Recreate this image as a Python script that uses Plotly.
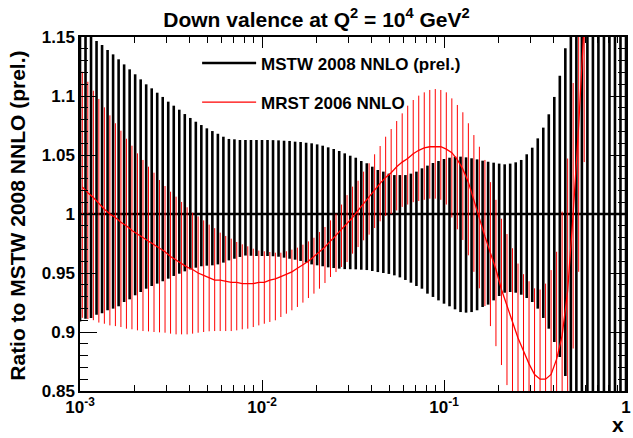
import numpy as np
import plotly.graph_objects as go

# ---------------- data ----------------
black_x = [
    0.001, 0.0010723, 0.0011498, 0.0012328, 0.0013219, 0.0014175, 0.0015199, 0.0016298, 0.0017475, 0.0018738,
    0.0020092, 0.0021544, 0.0023101, 0.0024771, 0.0026561, 0.002848, 0.0030539, 0.0032745, 0.0035112, 0.0037649,
    0.004037, 0.0043288, 0.0046416, 0.004977, 0.0053367, 0.0057224, 0.0061359, 0.0065793, 0.0070548, 0.0075646,
    0.0081113, 0.0086975, 0.009326,
    0.01, 0.010723, 0.011498, 0.012328, 0.013219, 0.014175, 0.015199, 0.016298, 0.017475, 0.018738,
    0.020092, 0.021544, 0.023101, 0.024771, 0.026561, 0.02848, 0.030539, 0.032745, 0.035112, 0.037649,
    0.04037, 0.043288, 0.046416, 0.04977, 0.053367, 0.057224, 0.061359, 0.065793, 0.070548, 0.075646,
    0.081113, 0.086975, 0.09326,
    0.1, 0.10723, 0.11498, 0.12328, 0.13219, 0.14175, 0.15199, 0.16298, 0.17475, 0.18738,
    0.20092, 0.21544, 0.23101, 0.24771, 0.26561, 0.2848, 0.30539, 0.32745, 0.35112, 0.37649,
    0.4037, 0.43288, 0.46416, 0.4977, 0.53367, 0.57224, 0.61359, 0.65793, 0.70548, 0.75646,
    0.81113, 0.86975, 0.9326, 1.0,
]
mstw_center = [1.0] * 100
mstw_hi = [
    1.170, 1.160, 1.152, 1.1466, 1.1432, 1.1390, 1.1353, 1.1311, 1.1268, 1.1226,
    1.1184, 1.1141, 1.1099, 1.1065, 1.1028, 1.0992, 1.0952, 1.0918, 1.0884, 1.0847,
    1.0814, 1.0782, 1.0754, 1.0726, 1.0703, 1.0680, 1.0655, 1.0636, 1.0633, 1.0627,
    1.0627, 1.0627, 1.0627, 1.0627, 1.0627, 1.0626, 1.0624, 1.0621, 1.0619, 1.0613,
    1.0610, 1.0604, 1.0599, 1.0590, 1.0579, 1.0565, 1.0551, 1.0534, 1.0514, 1.0494,
    1.0477, 1.0449, 1.0430, 1.0401, 1.0373, 1.0359, 1.0342, 1.0330, 1.0330, 1.0330,
    1.0342, 1.0359, 1.0387, 1.0410, 1.0432, 1.0449, 1.0466, 1.0477, 1.0486, 1.0486,
    1.0480, 1.0472, 1.0463, 1.0452, 1.0443, 1.0435, 1.0427, 1.0421, 1.0427, 1.0438,
    1.0458, 1.0506, 1.0562, 1.0641, 1.0732, 1.0845, 1.0992, 1.1172, 1.1404, 1.170,
    1.20, 1.23, 1.26, 1.29, 1.32, 1.35, 1.38, 1.41, 1.44, 1.47,
]
mstw_lo = [
    0.9090, 0.9113, 0.9119, 0.9147, 0.9158, 0.9184, 0.9198, 0.9218, 0.9254, 0.9277,
    0.9311, 0.9339, 0.9367, 0.9390, 0.9410, 0.9430, 0.9452, 0.9475, 0.9494, 0.9514,
    0.9531, 0.9545, 0.9557, 0.9562, 0.9565, 0.9573, 0.9588, 0.9607, 0.9621, 0.9636,
    0.9648, 0.9646, 0.9644, 0.9644, 0.9644, 0.9642, 0.9638, 0.9630, 0.9621, 0.9613,
    0.9602, 0.9588, 0.9573, 0.9565, 0.9557, 0.9548, 0.9542, 0.9537, 0.9533, 0.9532,
    0.9531, 0.9528, 0.9525, 0.9517, 0.9508, 0.9500, 0.9492, 0.9480, 0.9463, 0.9441,
    0.9418, 0.9390, 0.9367, 0.9325, 0.9297, 0.9268, 0.9240, 0.9218, 0.9192, 0.9169,
    0.9164, 0.9169, 0.9184, 0.9212, 0.9232, 0.9268, 0.9305, 0.9333, 0.9339, 0.9333,
    0.9316, 0.9288, 0.9254, 0.9198, 0.9119, 0.9028, 0.8915, 0.8788, 0.8627, 0.840,
    0.81, 0.78, 0.75, 0.72, 0.69, 0.66, 0.63, 0.60, 0.57, 0.54,
]

red_x = [
    0.0010297, 0.0011041, 0.001184, 0.0012694, 0.0013612, 0.0014596, 0.001565, 0.0016782, 0.0017994, 0.0019295,
    0.0020689, 0.0022184, 0.0023787, 0.0025507, 0.002735, 0.0029326, 0.0031446, 0.0033718, 0.0036155, 0.0038768,
    0.0041569, 0.0044574, 0.0047795, 0.0051248, 0.0054952, 0.0058924, 0.0063181, 0.0067747, 0.0072643, 0.0077893,
    0.0083523, 0.0089558, 0.009603,
    0.010297, 0.011041, 0.01184, 0.012694, 0.013612, 0.014596, 0.01565, 0.016782, 0.017994, 0.019295,
    0.020689, 0.022184, 0.023787, 0.025507, 0.02735, 0.029326, 0.031446, 0.033718, 0.036155, 0.038768,
    0.041569, 0.044574, 0.047795, 0.051248, 0.054952, 0.058924, 0.063181, 0.067747, 0.072643, 0.077893,
    0.083523, 0.089558, 0.09603,
    0.10297, 0.11041, 0.1184, 0.12694, 0.13612, 0.14596, 0.1565, 0.16782, 0.17994, 0.19295,
    0.20689, 0.22184, 0.23787, 0.25507, 0.2735, 0.29326, 0.31446, 0.33718, 0.36155, 0.38768,
    0.41569, 0.44574, 0.47795, 0.51248, 0.54952, 0.58924, 0.63181,
]
mrst_center = [
    1.023, 1.018, 1.014, 1.009, 1.004, 1.000, 0.997, 0.993, 0.990, 0.986,
    0.983, 0.980, 0.977, 0.974, 0.971, 0.968, 0.964, 0.961, 0.958, 0.955,
    0.953, 0.950, 0.948, 0.946, 0.944, 0.944, 0.943, 0.942, 0.942, 0.941,
    0.941, 0.941, 0.942, 0.942, 0.944, 0.945, 0.947, 0.949, 0.951, 0.954,
    0.957, 0.960, 0.964, 0.968, 0.972, 0.977, 0.982, 0.987, 0.992, 0.997,
    1.003, 1.009, 1.015, 1.021, 1.026, 1.031, 1.035, 1.040, 1.044, 1.047,
    1.051, 1.054, 1.056, 1.057, 1.057, 1.057, 1.055, 1.052, 1.046, 1.038,
    1.027, 1.011, 0.995, 0.981, 0.967, 0.953, 0.936, 0.922, 0.908, 0.895,
    0.884, 0.873, 0.864, 0.860, 0.860, 0.864, 0.877, 0.897, 0.935, 1.000,
    1.075, 1.160, 1.250,
]
mrst_hi = [
    1.1206, 1.1121, 1.1045, 1.0975, 1.0904, 1.0836, 1.0769, 1.0706, 1.0638, 1.0579,
    1.0514, 1.0458, 1.0401, 1.0350, 1.0288, 1.0237, 1.0189, 1.0147, 1.0102, 1.0057,
    1.0011, 0.9980, 0.9946, 0.9910, 0.9880, 0.9842, 0.9814, 0.9791, 0.9763, 0.9743,
    0.9726, 0.9706, 0.9690, 0.9684, 0.9678, 0.9672, 0.9672, 0.9684, 0.9698, 0.9715,
    0.9740, 0.9768, 0.9799, 0.9847, 0.9890, 0.9946, 1.0003, 1.0080, 1.0160, 1.0232,
    1.0282, 1.0359, 1.0430, 1.0506, 1.0576, 1.0655, 1.0720, 1.0788, 1.0853, 1.0918,
    1.0966, 1.1003, 1.1031, 1.1051, 1.1059, 1.1051, 1.1031, 1.0980, 1.0924, 1.0862,
    1.0769, 1.0669, 1.0570, 1.0458, 1.0270, 1.0120, 0.9960, 0.9830, 0.9710, 0.9580,
    0.9490, 0.9430, 0.9370, 0.9360, 0.9410, 0.9525, 0.9680, 1.0020, 1.0470, 1.1110,
    1.199, 1.280, 1.340,
]
mrst_lo = [
    0.912, 0.911, 0.910, 0.908, 0.907, 0.9056, 0.9050, 0.9042, 0.9028, 0.9023,
    0.9014, 0.9008, 0.9005, 0.9000, 0.8997, 0.8994, 0.8986, 0.8980, 0.8980, 0.8980,
    0.8986, 0.8994, 0.9000, 0.9006, 0.9008, 0.9008, 0.9008, 0.9008, 0.9014, 0.9023,
    0.9028, 0.9042, 0.9056, 0.9070, 0.9085, 0.9099, 0.9127, 0.9155, 0.9184, 0.9212,
    0.9249, 0.9288, 0.9325, 0.9367, 0.9415, 0.9466, 0.9508, 0.9551, 0.9593, 0.9664,
    0.9720, 0.9777, 0.9825, 0.9881, 0.9938, 0.9983, 1.0000, 1.0030, 1.0060, 1.0080,
    1.0100, 1.0110, 1.0120, 1.0130, 1.0130, 1.0120, 1.0080, 0.9970, 0.9870, 0.9780,
    0.9650, 0.9510, 0.9370, 0.9220, 0.9050, 0.8880, 0.8720, 0.8550, 0.8430, 0.8300,
    0.8180, 0.8030, 0.7910, 0.7840, 0.7790, 0.7750, 0.7860, 0.7920, 0.8230, 0.8860,
    0.951, 1.044, 1.160,
]

x_tick_vals = [0.001, 0.01, 0.1, 1]
x_tick_text = ["10<sup>-3</sup>", "10<sup>-2</sup>", "10<sup>-1</sup>", "1"]
y_tick_vals = [0.85, 0.9, 0.95, 1.0, 1.05, 1.1, 1.15]
y_tick_text = ["0.85", "0.9", "0.95", "1", "1.05", "1.1", "1.15"]

# ---------------- figure ----------------
FONT = "Liberation Sans"
bc = np.array(mstw_center)
rc = np.array(mrst_center)

fig = go.Figure()
fig.add_trace(go.Scatter(
    x=black_x, y=mstw_center, mode="markers",
    marker=dict(size=1, color="rgba(0,0,0,0)"),
    error_y=dict(type="data", symmetric=False,
                 array=np.array(mstw_hi) - bc, arrayminus=bc - np.array(mstw_lo),
                 color="black", thickness=2.6, width=0),
    showlegend=False, hoverinfo="skip"))
fig.add_trace(go.Scatter(
    x=black_x, y=mstw_center, mode="lines",
    line=dict(color="black", width=2.5),
    name="MSTW 2008 NNLO (prel.)", legendgroup="a"))
fig.add_trace(go.Scatter(
    x=red_x, y=mrst_center, mode="markers",
    marker=dict(size=1, color="rgba(0,0,0,0)"),
    error_y=dict(type="data", symmetric=False,
                 array=np.array(mrst_hi) - rc, arrayminus=rc - np.array(mrst_lo),
                 color="red", thickness=1.0, width=0),
    showlegend=False, hoverinfo="skip"))
fig.add_trace(go.Scatter(
    x=red_x, y=mrst_center, mode="lines",
    line=dict(color="red", width=1.3),
    name="MRST 2006 NNLO", legendgroup="b"))

axis_common = dict(showline=True, linecolor="black", linewidth=1.5, mirror="ticks",
                   ticks="inside", tickcolor="black", tickwidth=1, showgrid=False,
                   zeroline=False, ticklabeloverflow="allow",
                   tickfont=dict(family=FONT, size=17, color="black", weight="bold"))

minor_x = [m * d for d in (0.001, 0.01, 0.1) for m in range(2, 10)]

fig.update_layout(
    width=633, height=438,
    margin=dict(l=80, r=2, t=37, b=47),
    paper_bgcolor="white", plot_bgcolor="white",
    xaxis=dict(type="log", range=[-3, 0], tickvals=x_tick_vals, ticktext=x_tick_text,
               ticklen=11,
               minor=dict(tickvals=minor_x, ticks="inside", ticklen=6, tickcolor="black",
                          tickwidth=1, showgrid=False),
               **axis_common),
    yaxis=dict(range=[0.85, 1.15], tickvals=y_tick_vals, ticktext=y_tick_text,
               ticklen=17,
               minor=dict(dtick=0.01, tick0=0.85, ticks="inside", ticklen=8,
                          tickcolor="black", tickwidth=1, showgrid=False),
               **axis_common),
    title=dict(text="Down valence at Q<sup>2</sup> = 10<sup>4</sup> GeV<sup>2</sup>",
               x=0.5, xref="container", xanchor="center",
               y=0.955, yref="container", yanchor="middle",
               font=dict(family=FONT, size=21, color="black", weight="bold")),
    legend=dict(x=0.2145, y=0.976, xanchor="left", yanchor="top",
                bgcolor="rgba(0,0,0,0)", borderwidth=0,
                font=dict(family=FONT, size=17, color="black", weight="bold"),
                itemwidth=54, traceorder="grouped", tracegroupgap=14),
    showlegend=True,
    annotations=[
        dict(text="Ratio to MSTW 2008 NNLO (prel.)", textangle=-90,
             xref="paper", yref="paper", x=-0.1143, y=0.494,
             xanchor="center", yanchor="middle", showarrow=False,
             font=dict(family=FONT, size=21, color="black", weight="bold")),
        dict(text="x", xref="paper", yref="paper", x=0.986, y=-0.1315,
             xanchor="center", yanchor="bottom", showarrow=False,
             font=dict(family=FONT, size=21, color="black", weight="bold")),
    ],
)

fig.write_html("out.html")
